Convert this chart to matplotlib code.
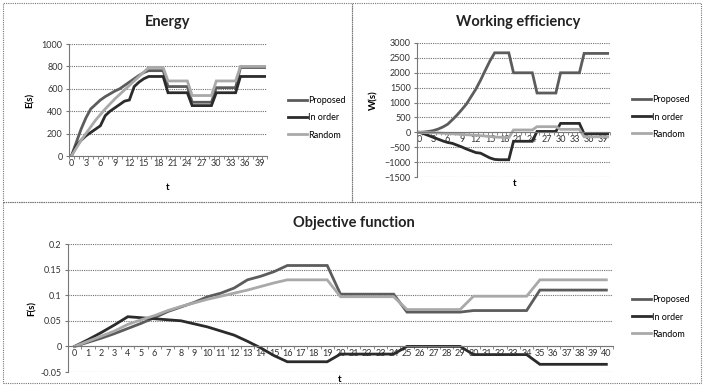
import numpy as np
import matplotlib
matplotlib.use('Agg')
import matplotlib.pyplot as plt
from matplotlib.patches import Rectangle

plt.rcParams['font.family'] = ['Lato', 'DejaVu Sans']

t = list(range(41))

# Energy E(s)
e_proposed = [0, 120, 240, 340, 420, 460, 500, 530, 555, 580, 600, 630, 660, 690, 720, 745, 762, 762, 762, 762,
              620, 620, 620, 620, 620, 480, 480, 480, 480, 480, 610, 610, 610, 610, 610, 790, 790, 790, 790, 790, 790]
e_inorder = [0, 90, 140, 180, 210, 240, 270, 360, 400, 430, 460, 490, 500, 620, 660, 690, 710, 710, 710, 710,
             565, 565, 565, 565, 565, 450, 450, 450, 450, 450, 565, 565, 565, 565, 565, 710, 710, 710, 710, 710, 710]
e_random = [0, 70, 140, 200, 260, 320, 370, 420, 465, 510, 550, 590, 630, 670, 710, 750, 790, 790, 790, 790,
            670, 670, 670, 670, 670, 540, 540, 540, 540, 540, 670, 670, 670, 670, 670, 800, 800, 800, 800, 800, 800]

# Working efficiency W(s)
w_proposed = [0, 10, 30, 60, 110, 180, 270, 420, 580, 760, 950, 1200, 1450, 1750, 2080, 2400, 2670, 2670, 2670, 2670,
              2000, 2000, 2000, 2000, 2000, 1320, 1320, 1320, 1320, 1320, 2000, 2000, 2000, 2000, 2000,
              2650, 2650, 2650, 2650, 2650, 2650]
w_inorder = [0, -50, -110, -170, -230, -290, -340, -370, -430, -490, -560, -620, -680, -700, -780, -860, -910, -920, -920, -920,
             -300, -300, -300, -300, -300, 30, 30, 30, 30, 30, 300, 300, 300, 300, 300, -50, -50, -50, -50, -50, -50]
w_random = [0, -5, -10, -15, -20, -30, -40, -50, -60, -70, -80, -90, -100, -110, -125, -140, -155, -165, -170, -175,
            80, 80, 80, 80, 80, 190, 190, 190, 190, 190, 100, 100, 100, 100, 100, -150, -150, -150, -150, -150, -150]

# Objective function F(s)
f_proposed = [0, 0.008, 0.016, 0.025, 0.035, 0.045, 0.056, 0.068, 0.077, 0.086, 0.097, 0.104, 0.114, 0.13, 0.137, 0.146,
              0.158, 0.158, 0.158, 0.158, 0.102, 0.102, 0.102, 0.102, 0.102, 0.067, 0.067, 0.067, 0.067, 0.067,
              0.07, 0.07, 0.07, 0.07, 0.07, 0.11, 0.11, 0.11, 0.11, 0.11, 0.11]
f_inorder = [0, 0.013, 0.027, 0.042, 0.058, 0.056, 0.054, 0.052, 0.05, 0.044, 0.038, 0.03, 0.022, 0.01, -0.003, -0.018,
             -0.03, -0.03, -0.03, -0.03, -0.015, -0.015, -0.015, -0.015, -0.015, 0, 0, 0, 0, 0,
             -0.016, -0.016, -0.016, -0.016, -0.016, -0.035, -0.035, -0.035, -0.035, -0.035, -0.035]
f_random = [0, 0.01, 0.02, 0.03, 0.043, 0.052, 0.06, 0.07, 0.078, 0.085, 0.092, 0.098, 0.104, 0.11, 0.117, 0.124,
            0.13, 0.13, 0.13, 0.13, 0.097, 0.097, 0.097, 0.097, 0.097, 0.072, 0.072, 0.072, 0.072, 0.072,
            0.098, 0.098, 0.098, 0.098, 0.098, 0.13, 0.13, 0.13, 0.13, 0.13, 0.13]

names = ['Proposed', 'In order', 'Random']
colors = ['#5c5c5c', '#2b2b2b', '#a9a9a9']

W, H = 704, 385
fig = plt.figure(figsize=(W / 100, H / 100), dpi=100)


def px(x0, y0, x1, y1):
    return [x0 / W, 1 - y1 / H, (x1 - x0) / W, (y1 - y0) / H]


def style(ax, ylim, yticks, step_lbl, zero_axis=False):
    ax.set_xlim(-0.5, 40.5)
    ax.set_ylim(*ylim)
    ax.set_yticks(yticks)
    ax.set_xticks(range(0, 41, step_lbl))
    ax.set_xticks(np.arange(-0.5, 41, 1), minor=True)
    ax.tick_params(axis='x', which='major', length=0, labelsize=6.5, colors='#333333', pad=2)
    ax.tick_params(axis='x', which='minor', length=2.5, color='#777777', direction='out')
    ax.tick_params(axis='y', labelsize=6.5, colors='#333333', length=2.5, color='#777777', pad=2)
    ax.grid(axis='y', color='#6f6f6f', linestyle=(0, (1, 1)), linewidth=0.8)
    ax.set_axisbelow(True)
    for s in ['top', 'right']:
        ax.spines[s].set_visible(False)
    ax.spines['left'].set_color('#777777')
    ax.spines['left'].set_linestyle((0, (1, 1)))
    ax.spines['bottom'].set_color('#777777')
    ax.spines['bottom'].set_linestyle((0, (1, 1)))
    if zero_axis:
        ax.spines['bottom'].set_position(('data', 0))


def draw(ax, series):
    for s, c, n in zip(series, colors, names):
        ax.plot(t, s, color=c, lw=2.0, label=n, solid_joinstyle='miter')


# panel borders
for (x0, y0, x1, y1) in [(3, 3, 352, 202), (352, 3, 701, 202), (3, 202, 701, 383)]:
    fig.add_artist(Rectangle((x0 / W, 1 - y1 / H), (x1 - x0) / W, (y1 - y0) / H, transform=fig.transFigure,
                             fill=False, edgecolor='#777777', linestyle=(0, (1, 1)), linewidth=0.8))

# Energy
ax1 = fig.add_axes(px(69, 44, 267, 156))
style(ax1, (0, 1000), range(0, 1001, 200), 3)
draw(ax1, [e_proposed, e_inorder, e_random])
fig.text(168 / W, 1 - 22 / H, 'Energy', ha='center', va='center', fontsize=10.5, fontweight='bold', color='#222222')
fig.text(30 / W, 1 - 100 / H, 'E(s)', ha='center', va='center', rotation=90, fontsize=7, fontweight='bold')
fig.text(168 / W, 1 - 188 / H, 't', ha='center', va='center', fontsize=7, fontweight='bold')
ax1.legend(loc='center left', bbox_to_anchor=(283 / W, 1 - 118 / H), bbox_transform=fig.transFigure,
           frameon=False, fontsize=6.5, handlelength=2.2, handletextpad=0.1, labelspacing=0.9, borderpad=0)

# Working efficiency
ax2 = fig.add_axes(px(417, 43, 610, 177))
style(ax2, (-1500, 3000), range(-1500, 3001, 500), 3, zero_axis=True)
draw(ax2, [w_proposed, w_inorder, w_random])
fig.text(518 / W, 1 - 22 / H, 'Working efficiency', ha='center', va='center', fontsize=10.5, fontweight='bold',
         color='#222222')
fig.text(374 / W, 1 - 100 / H, 'W(s)', ha='center', va='center', rotation=90, fontsize=7, fontweight='bold')
fig.text(515 / W, 1 - 184 / H, 't', ha='center', va='center', fontsize=7, fontweight='bold')
ax2.legend(loc='center left', bbox_to_anchor=(627 / W, 1 - 117 / H), bbox_transform=fig.transFigure,
           frameon=False, fontsize=6.5, handlelength=2.2, handletextpad=0.1, labelspacing=0.9, borderpad=0)

# Objective function
ax3 = fig.add_axes(px(68, 244, 613, 372))
style(ax3, (-0.05, 0.2), [-0.05, 0, 0.05, 0.1, 0.15, 0.2], 1, zero_axis=True)
ax3.set_yticklabels(['-0.05', '0', '0.05', '0.1', '0.15', '0.2'])
draw(ax3, [f_proposed, f_inorder, f_random])
fig.text(354 / W, 1 - 223 / H, 'Objective function', ha='center', va='center', fontsize=10.5, fontweight='bold',
         color='#222222')
fig.text(32 / W, 1 - 308 / H, 'F(s)', ha='center', va='center', rotation=90, fontsize=7, fontweight='bold')
fig.text(340 / W, 1 - 379 / H, 't', ha='center', va='center', fontsize=7, fontweight='bold')
ax3.legend(loc='center left', bbox_to_anchor=(627 / W, 1 - 317 / H), bbox_transform=fig.transFigure,
           frameon=False, fontsize=6.5, handlelength=2.2, handletextpad=0.1, labelspacing=0.9, borderpad=0)

fig.savefig('out.png', dpi=100)
